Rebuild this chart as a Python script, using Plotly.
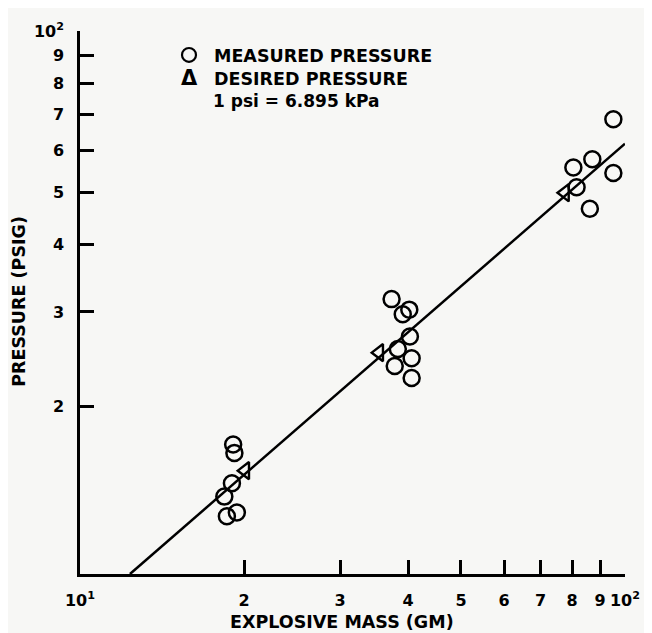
import plotly.graph_objects as go

# Measured pressure (circles): explosive mass (gm), pressure (psig)
measured_mass = [19.1, 19.2, 19.0, 18.4, 18.6, 19.4,
                 37.3, 39.1, 40.2, 40.3, 38.3, 40.6, 37.8, 40.6,
                 95.2, 87.1, 80.4, 95.2, 81.5, 86.2]
measured_pressure = [17.0, 16.4, 14.4, 13.6, 12.5, 12.7,
                     31.7, 29.7, 30.3, 27.0, 25.6, 24.6, 23.8, 22.6,
                     68.5, 57.7, 55.7, 54.4, 51.2, 46.7]

# Desired pressure (triangles)
desired_mass = [20.1, 35.4, 77.6]
desired_pressure = [15.2, 25.2, 50.0]

# Fitted line end points
fit_mass = [12.35, 100]
fit_pressure = [9.76, 61.7]

x_tickvals = [10, 20, 30, 40, 50, 60, 70, 80, 90, 100]
x_ticktext = ["10<sup>1</sup>", "2", "3", "4", "5", "6", "7", "8", "9", "10<sup>2</sup>"]
y_tickvals = [20, 30, 40, 50, 60, 70, 80, 90, 100]
y_ticktext = ["2", "3", "4", "5", "6", "7", "8", "9", "10<sup>2</sup>"]

FONT = "DejaVu Sans"
BG = "#f7f7f5"

fig = go.Figure()
fig.add_trace(go.Scatter(x=fit_mass, y=fit_pressure, mode="lines",
                         line=dict(color="black", width=2.5), showlegend=False))
fig.add_trace(go.Scatter(x=measured_mass, y=measured_pressure, mode="markers",
                         marker=dict(symbol="circle-open", size=16, color="black",
                                     line=dict(width=2.5, color="black")),
                         showlegend=False))
fig.add_trace(go.Scatter(x=desired_mass, y=desired_pressure, mode="markers",
                         marker=dict(symbol="triangle-left-open", size=15, color="black",
                                     line=dict(width=2.4, color="black")),
                         showlegend=False))

axis_common = dict(type="log", showline=True, linecolor="black", linewidth=2.5,
                   showgrid=False, zeroline=False, ticks="inside", ticklen=14,
                   tickwidth=2.5, tickcolor="black", mirror=False,
                   tickfont=dict(family=FONT, size=16, color="black", weight="bold"))

fig.update_xaxes(range=[1, 2], tickmode="array", tickvals=x_tickvals,
                 ticktext=x_ticktext, ticklabelstandoff=10, **axis_common)
fig.update_yaxes(range=[0.9895, 2], tickmode="array", tickvals=y_tickvals,
                 ticktext=y_ticktext, ticklabelstandoff=10, **axis_common)

def ann(text, x, y, size, xanchor="left", angle=0, fam=FONT):
    fig.add_annotation(text=text, x=x, y=y, xref="paper", yref="paper",
                       showarrow=False, xanchor=xanchor, yanchor="middle",
                       textangle=angle,
                       font=dict(family=fam, size=size, color="black", weight="bold"))

ann("EXPLOSIVE MASS (GM)", 0.481, -0.0889, 17.5, xanchor="center")
ann("PRESSURE (PSIG)", -0.112, 0.503, 17.5, xanchor="center", angle=-90)

# legend key: circle outline drawn as a shape, delta as bold text
cx, cy, rx, ry = 0.2, 0.956, 7 / 545, 7 / 551
fig.add_shape(type="circle", xref="paper", yref="paper",
              x0=cx - rx, x1=cx + rx, y0=cy - ry, y1=cy + ry,
              line=dict(color="black", width=2.2))
ann("MEASURED PRESSURE", 0.242, 0.9546, 17.5)
ann("Δ", 0.2, 0.913, 21, xanchor="center")
ann("DESIRED PRESSURE", 0.242, 0.911, 17.5)
ann("1 psi = 6.895 kPa", 0.240, 0.871, 17)

# page body has an 8px margin, so the figure is shifted by 8px
fig.update_layout(width=652, height=633, margin=dict(l=72, r=35, t=15, b=67),
                  paper_bgcolor=BG, plot_bgcolor=BG, showlegend=False)

fig.write_html("out.html")
